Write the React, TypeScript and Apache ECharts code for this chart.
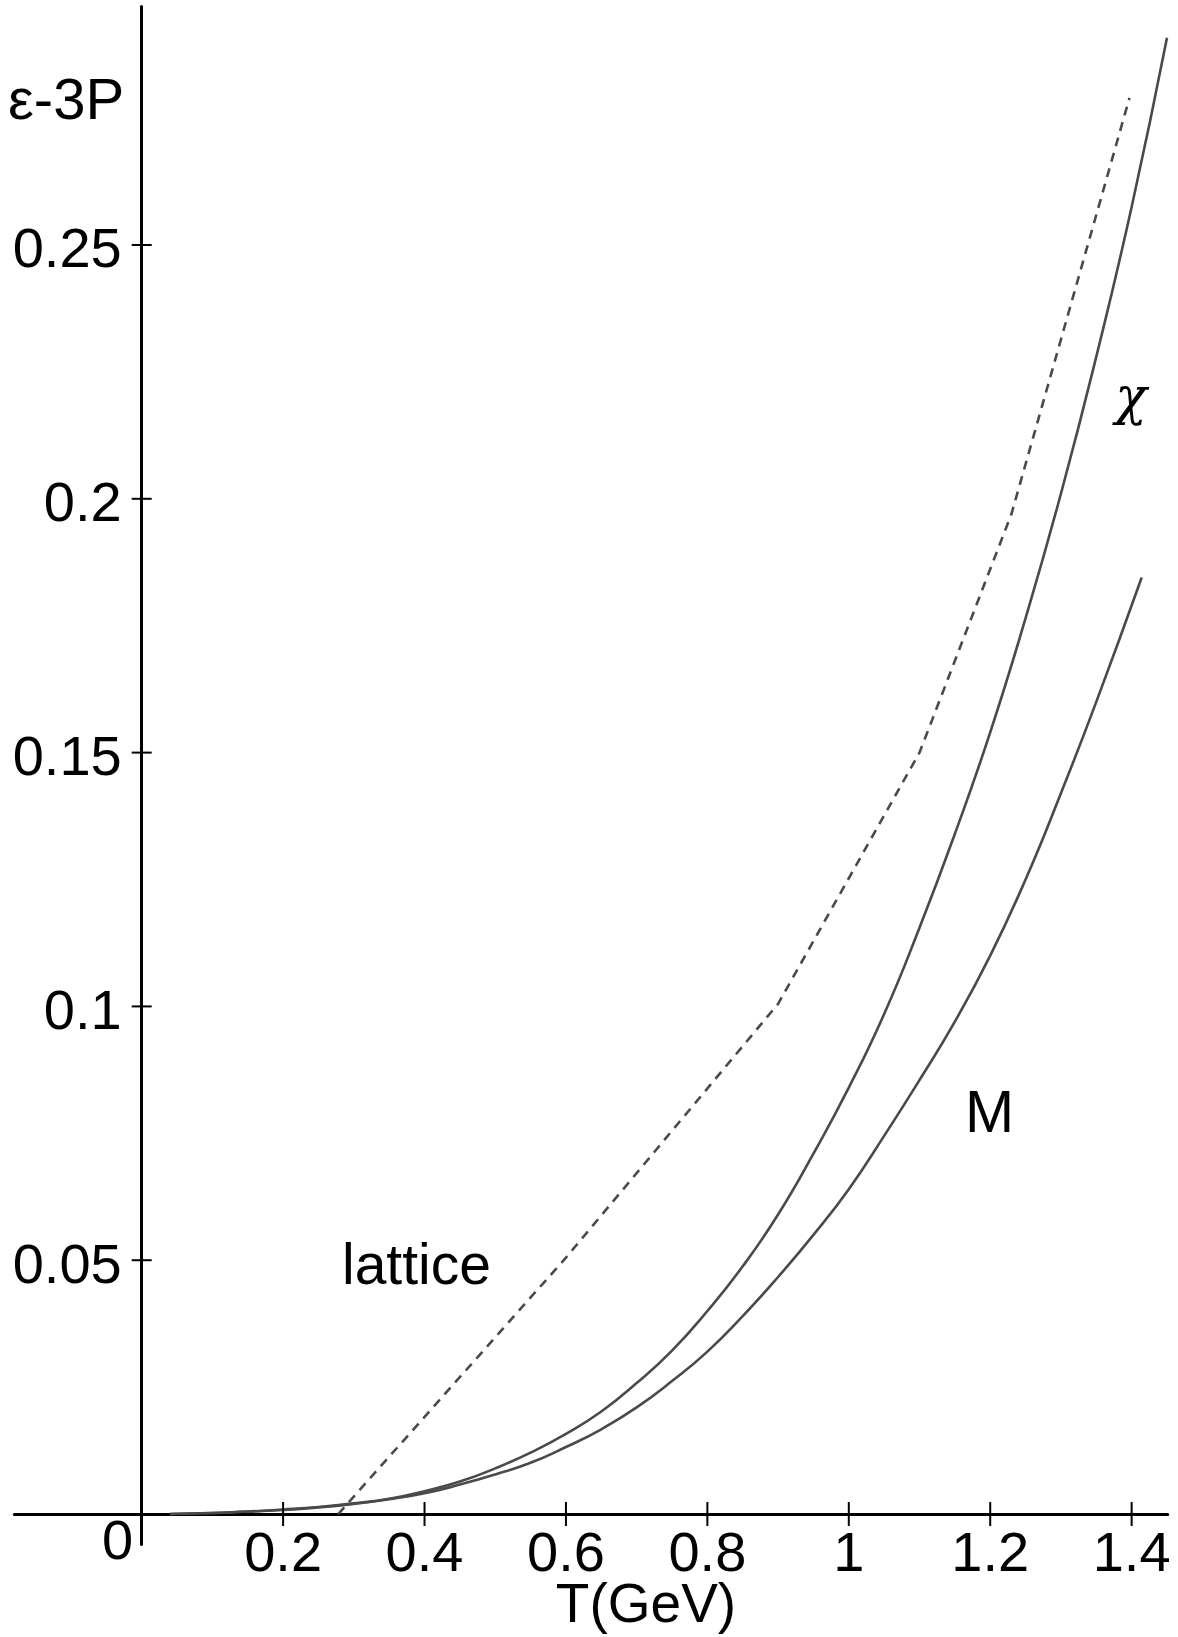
import React, { useEffect, useRef } from "react";
import * as echarts from "echarts";

// ---- data ----
const latticeT = [0.278, 0.6, 0.9, 1.1, 1.23, 1.397];
const latticeV = [0.0, 0.0505, 0.1005, 0.15, 0.197, 0.279];

const chiT = [0.04, 0.1, 0.15, 0.2, 0.25, 0.3, 0.35, 0.4, 0.45, 0.5, 0.55, 0.6, 0.65, 0.7, 0.75, 0.8, 0.85, 0.9, 0.95, 1.0, 1.05, 1.1, 1.15, 1.2, 1.25, 1.3, 1.35, 1.4, 1.45];
const chiV = [0.0, 0.0002, 0.0005, 0.0009, 0.0014, 0.0021, 0.003, 0.0045, 0.0064, 0.009, 0.0121, 0.0158, 0.0202, 0.0258, 0.0322, 0.04, 0.0488, 0.059, 0.071, 0.084, 0.0985, 0.1155, 0.134, 0.154, 0.1765, 0.201, 0.228, 0.2575, 0.2908];

const mT = [0.04, 0.1, 0.15, 0.2, 0.25, 0.3, 0.35, 0.4, 0.45, 0.5, 0.55, 0.6, 0.65, 0.7, 0.75, 0.8, 0.85, 0.9, 0.95, 1.0, 1.05, 1.1, 1.15, 1.2, 1.25, 1.3, 1.35, 1.4142];
const mV = [0.0, 0.0002, 0.0005, 0.0008, 0.0013, 0.002, 0.0029, 0.0041, 0.0058, 0.0078, 0.0101, 0.0132, 0.0167, 0.021, 0.0262, 0.032, 0.039, 0.0467, 0.055, 0.064, 0.0745, 0.0855, 0.097, 0.11, 0.125, 0.142, 0.16, 0.1845];

const xTickValues = [0.2, 0.4, 0.6, 0.8, 1, 1.2, 1.4];
const xTickLabels = ["0.2", "0.4", "0.6", "0.8", "1", "1.2", "1.4"];
const yTickValues = [0.05, 0.1, 0.15, 0.2, 0.25];
const yTickLabels = ["0.05", "0.1", "0.15", "0.2", "0.25"];

const FONT = "'Liberation Sans', Arial, Helvetica, sans-serif";
const CURVE = "#4a4a4a";

function pairs(xs: number[], ys: number[]) {
  return xs.map((x, i) => [x, ys[i]]);
}

export default function App() {
  const ref = useRef<HTMLDivElement>(null);
  useEffect(() => {
    if (!ref.current) return;
    const chart = echarts.init(ref.current, null, { renderer: "svg" });
    chart.setOption({
      animation: false,
      backgroundColor: "#ffffff",
      grid: {
        left: 14.4,
        right: 10.3,
        top: 6.4,
        bottom: 92.5,
        containLabel: false,
        outerBoundsMode: "none",
      },
      xAxis: {
        type: "value",
        min: -0.18,
        max: 1.451,
        axisLine: { show: true, onZero: true, lineStyle: { color: "#000", width: 3 } },
        axisTick: { show: false },
        splitLine: { show: false },
        axisLabel: { show: false },
      },
      yAxis: {
        type: "value",
        min: -0.006,
        max: 0.297,
        axisLine: { show: true, onZero: true, lineStyle: { color: "#000", width: 3 } },
        axisTick: { show: false },
        splitLine: { show: false },
        axisLabel: { show: false },
      },
      series: [
        {
          name: "lattice",
          type: "line",
          data: pairs(latticeT, latticeV),
          showSymbol: false,
          symbol: "none",
          lineStyle: { color: CURVE, width: 2.6, type: [9, 7] },
          z: 3,
        },
        {
          name: "chi",
          type: "line",
          data: pairs(chiT, chiV),
          showSymbol: false,
          symbol: "none",
          smooth: 0.5,
          lineStyle: { color: CURVE, width: 2.6 },
          z: 3,
        },
        {
          name: "M",
          type: "line",
          data: pairs(mT, mV),
          showSymbol: false,
          symbol: "none",
          smooth: 0.5,
          lineStyle: { color: CURVE, width: 2.6 },
          z: 3,
        },
        {
          name: "xticks",
          type: "scatter",
          data: xTickValues.map((v, i) => ({ value: [v, 0], name: xTickLabels[i] })),
          symbol: "rect",
          symbolSize: [2, 24],
          itemStyle: { color: "#000", opacity: 1 },
          silent: true,
          z: 4,
          label: {
            show: true,
            position: "bottom",
            distance: 3,
            lineHeight: 44,
            formatter: (p: any) => p.name,
            fontSize: 56,
            fontFamily: FONT,
            color: "#000",
            opacity: 1,
          },
        },
        {
          name: "yticks",
          type: "scatter",
          data: yTickValues.map((v, i) => ({ value: [0, v], name: yTickLabels[i] })),
          symbol: "rect",
          symbolSize: [20, 2],
          itemStyle: { color: "#000", opacity: 1 },
          silent: true,
          z: 4,
          label: {
            show: true,
            position: "left",
            distance: 10,
            offset: [0, 3],
            lineHeight: 44,
            formatter: (p: any) => p.name,
            fontSize: 56,
            fontFamily: FONT,
            color: "#000",
            opacity: 1,
          },
        },
      ],
      graphic: [
        {
          type: "text",
          x: 117.5,
          y: 1539,
          style: { text: "0", font: `56px ${FONT}`, fill: "#000", align: "center", verticalAlign: "middle", lineHeight: 44 },
        },
        {
          type: "text",
          x: 646,
          y: 1603,
          style: { text: "T(GeV)", font: `55px ${FONT}`, fill: "#000", align: "center", verticalAlign: "middle", lineHeight: 44 },
        },
        {
          type: "text",
          x: 8,
          y: 98,
          style: { text: "ε-3P", font: `58px ${FONT}`, fill: "#000", align: "left", verticalAlign: "middle" },
        },
        {
          type: "text",
          x: 342,
          y: 1263.5,
          style: { text: "lattice", font: `57px ${FONT}`, fill: "#000", align: "left", verticalAlign: "middle" },
        },
        {
          type: "text",
          x: 965,
          y: 1112,
          style: { text: "M", font: `59px ${FONT}`, fill: "#000", align: "left", verticalAlign: "middle" },
        },
        {
          type: "text",
          x: 1131,
          y: 396,
          style: { text: "χ", font: `italic 52px 'DejaVu Serif', 'Liberation Serif', serif`, fill: "#000", align: "center", verticalAlign: "middle" },
        },
      ],
    });
    return () => chart.dispose();
  }, []);
  return (
    <div
      ref={ref}
      style={{ position: "absolute", left: 0, top: 0, width: 1178, height: 1637, background: "#fff" }}
    />
  );
}
